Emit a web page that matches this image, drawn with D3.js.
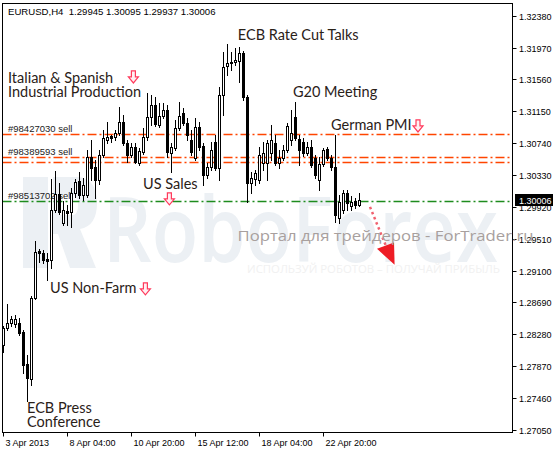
<!DOCTYPE html>
<html><head><meta charset="utf-8">
<script src="https://cdn.jsdelivr.net/npm/d3@7"></script>
<style>body{margin:0;background:#fff}svg{display:block}</style>
</head><body>
<svg id="c" width="553" height="451"></svg>
<script>
const headerText = "EURUSD,H4  1.29945 1.30095 1.29937 1.30006";
const openP = [1.28142,1.28361,1.28425,1.28412,1.28425,1.28309,1.27897,1.27704,1.28747,1.29352,
 1.29326,1.29249,1.29236,1.29879,1.30085,1.29712,1.29866,1.29854,1.30098,1.30253,
 1.30072,1.30072,1.30561,1.30433,1.30265,1.30587,1.30780,1.30832,1.30819,1.30870,
 1.31012,1.30742,1.30587,1.30690,1.30484,1.30626,1.30819,1.31076,1.31231,1.30973,
 1.31089,1.31166,1.30613,1.30677,1.30935,1.31128,1.30999,1.30780,1.30549,1.30948,
 1.30703,1.30330,1.30433,1.30754,1.30420,1.31359,1.31733,1.31771,1.31784,1.31797,
 1.31900,1.31334,1.30227,1.30278,1.30265,1.30484,1.30484,1.30613,1.30742,1.30484,
 1.30549,1.30651,1.30780,1.31076,1.30793,1.30754,1.30613,1.30690,1.30549,1.30265,
 1.30471,1.30664,1.30549,1.30433,1.29776,1.29879,1.30098,1.29931,1.29995,1.29945];
const highP = [1.28386,1.28670,1.28515,1.28528,1.28489,1.28335,1.28013,1.28772,1.29480,1.29377,
 1.29364,1.29326,1.30278,1.30381,1.30227,1.29995,1.29944,1.30162,1.30278,1.30368,
 1.30291,1.30651,1.30780,1.30523,1.30651,1.30909,1.31012,1.30845,1.30909,1.31205,
 1.31102,1.30780,1.30742,1.30742,1.30677,1.30935,1.31385,1.31359,1.31334,1.31256,
 1.31256,1.31231,1.30742,1.31038,1.31269,1.31192,1.31063,1.30909,1.31063,1.31012,
 1.30742,1.30484,1.30754,1.30845,1.31462,1.31913,1.32016,1.31913,1.31964,1.31977,
 1.31926,1.31359,1.30368,1.30394,1.30690,1.30754,1.30780,1.30973,1.30845,1.30651,
 1.30716,1.30999,1.31166,1.31269,1.30845,1.30806,1.30754,1.30780,1.30587,1.30561,
 1.30677,1.30690,1.30587,1.30845,1.30072,1.30137,1.30137,1.30059,1.30034,1.30095];
const lowP = [1.28052,1.28335,1.28386,1.28374,1.28271,1.27781,1.27421,1.27627,1.28734,1.29210,
 1.29197,1.28978,1.29133,1.29854,1.29828,1.29686,1.29686,1.29661,1.30047,1.30034,
 1.30008,1.30047,1.30265,1.30034,1.30214,1.30561,1.30742,1.30754,1.30780,1.30845,
 1.30716,1.30497,1.30561,1.30484,1.30458,1.30600,1.30780,1.30973,1.30960,1.30948,
 1.31063,1.30561,1.30368,1.30651,1.30909,1.30973,1.30780,1.30587,1.30523,1.30651,
 1.30201,1.30291,1.30394,1.30394,1.30265,1.31102,1.31617,1.31681,1.31745,1.31527,
 1.31295,1.29982,1.30098,1.30201,1.30227,1.30394,1.30265,1.30523,1.30458,1.30420,
 1.30523,1.30626,1.30716,1.30780,1.30458,1.30574,1.30587,1.30433,1.30291,1.30137,
 1.30446,1.30523,1.30394,1.29725,1.29712,1.29841,1.29879,1.29879,1.29905,1.29937];
const closeP = [1.28361,1.28425,1.28476,1.28476,1.28296,1.27884,1.27717,1.28747,1.29339,1.29326,
 1.29236,1.29223,1.29879,1.30085,1.29854,1.29879,1.29841,1.30098,1.30240,1.30072,
 1.30201,1.30561,1.30420,1.30265,1.30587,1.30806,1.30819,1.30806,1.30870,1.31012,
 1.30742,1.30587,1.30690,1.30497,1.30639,1.30819,1.31076,1.31231,1.30986,1.31089,
 1.31166,1.30626,1.30690,1.30935,1.31089,1.30999,1.30845,1.30626,1.30948,1.30690,
 1.30330,1.30433,1.30651,1.30420,1.31359,1.31720,1.31771,1.31784,1.31810,1.31900,
 1.31334,1.30227,1.30291,1.30355,1.30587,1.30613,1.30742,1.30780,1.30484,1.30549,
 1.30651,1.30960,1.30870,1.30806,1.30651,1.30613,1.30690,1.30458,1.30330,1.30471,
 1.30651,1.30549,1.30433,1.29815,1.29982,1.30098,1.29969,1.29982,1.29944,1.30006];
const xTickIdx = [0,16,32,48,64,80];
const xTickLabels = ["3 Apr 2013","8 Apr 04:00","10 Apr 20:00","15 Apr 12:00","18 Apr 04:00","22 Apr 20:00"];
const yTicks = [1.32380,1.31970,1.31560,1.31150,1.30740,1.30330,1.29920,1.29510,1.29100,1.28690,1.28280,1.27870,1.27460,1.27050];
const orderPrices = [1.30858,1.30566,1.30494,1.29997];
const orderLabels = ["#98427030 sell","#98389593 sell","","#98513702 sell"];
const orderKinds = ["sl","sl","sl","open"];
// event annotations: text lines, anchor bar position, anchor price (baseline)
const eventTexts = [["ECB Rate Cut Talks"],["Italian & Spanish","Industrial Production"],["G20 Meeting"],["German PMI"],["US Sales"],["US Non-Farm"],["ECB Press","Conference"]];
const eventBar = [58.7,1.25,72.5,82,35,11.75,6];
const eventPrice = [1.32067,1.31514,1.31328,1.30910,1.30151,1.28813,1.27269];
const arrowBar = [32.6,41.6,35.6,103.75];
const arrowPrice = [1.31669,1.30099,1.28941,1.31038];
const forecastBar = [91.75,95.75];
const forecastPrice = [1.29919,1.29415];
const headBar = [93.5,97.75,97.9];
const headPrice = [1.29379,1.29460,1.29173];
const watermarkText = "RoboForex";
const portalText = "Портал для трейдеров - ForTrader.ru";
const sloganText = "ИСПОЛЬЗУЙ РОБОТОВ – ПОЛУЧАЙ ПРИБЫЛЬ";

const svg = d3.select("#c");
const W = 553, H = 451;
const L = 2.5, R = 512.5, T = 3.5, B = 432.5;
const n = openP.length;
const x = d3.scaleLinear().domain([0, n-1]).range([3, 3 + 4*(n-1)]);
const y = d3.scaleLinear().domain([1.27050, 1.32380]).range([429.8, 15.7]);
const axisFont = "'Liberation Sans', Arial, sans-serif";
const evFont = "Lato, 'Open Sans', sans-serif";

svg.append("rect").attr("width",W).attr("height",H).attr("fill","#fff");

// watermark logo
const wm = svg.append("g").attr("fill","#ecf0f4");
wm.append("path").attr("d","M23,177 L48,177 L48,268 L23,268 Z");
wm.append("path").attr("d","M53,177 L78,177 Q97,179 97,203 Q97,226 80,229 L96,268 L70,268 L58,234 L53,234 Z M60,195 L60,215 L74,215 Q78,213 78,205 Q78,197 74,195 Z");
wm.append("text").attr("x",103).attr("y",262).attr("font-family","'Open Sans', sans-serif")
  .attr("font-weight",600).attr("font-size",90).attr("textLength",395).attr("lengthAdjust","spacingAndGlyphs").text(watermarkText);
svg.append("text").attr("x",247).attr("y",273).attr("font-family","'Open Sans', sans-serif").attr("font-size",11.5)
  .attr("fill","#f1f1f1").attr("textLength",253).attr("lengthAdjust","spacingAndGlyphs").text(sloganText);

// order lines
const orderColor = k => k === "open" ? "#1e8c1e" : "#ff4500";
orderPrices.forEach((p,i)=>{
  const yy = Math.round(y(p)) + 0.5;
  svg.append("line").attr("x1",L).attr("x2",R).attr("y1",yy).attr("y2",yy)
    .attr("stroke",orderColor(orderKinds[i])).attr("stroke-width",orderKinds[i]==="open"?1.3:1.7)
    .attr("stroke-dasharray","9,3,2,3");
  if (orderLabels[i]) svg.append("text").attr("x",x(1.25)).attr("y",yy-3).attr("font-family",axisFont)
    .attr("font-size",9.5).attr("fill","#222").text(orderLabels[i]);
});

// candles
const g = svg.append("g");
for (let i=0;i<n;i++){
  const cx = Math.round(x(i)) + 0.5;
  g.append("line").attr("x1",cx).attr("x2",cx).attr("y1",Math.round(y(highP[i]))).attr("y2",Math.round(y(lowP[i]))+1)
    .attr("stroke","#000").attr("stroke-width",1);
  const up = closeP[i] >= openP[i];
  const yt = Math.round(y(Math.max(openP[i],closeP[i])));
  const yb = Math.round(y(Math.min(openP[i],closeP[i])));
  g.append("rect").attr("x",cx-1).attr("y",yt+0.5).attr("width",2).attr("height",Math.max(yb-yt,0))
    .attr("fill",up?"#fff":"#000").attr("stroke","#000").attr("stroke-width",1);
}

// frame
svg.append("rect").attr("x",L).attr("y",T).attr("width",R-L).attr("height",B-T).attr("fill","none").attr("stroke","#000");

// y axis
yTicks.forEach(v=>{
  const yy = Math.round(y(v)) + 0.5;
  svg.append("line").attr("x1",R).attr("x2",R+4).attr("y1",yy).attr("y2",yy).attr("stroke","#000");
  svg.append("text").attr("x",519).attr("y",yy+3.5).attr("font-family",axisFont).attr("font-size",9).attr("fill","#000").text(v.toFixed(5));
});
// current price box
const lastC = closeP[n-1];
const cy = y(lastC);
svg.append("rect").attr("x",515).attr("y",Math.round(cy)-6).attr("width",38).attr("height",12).attr("fill","#000");
svg.append("text").attr("x",519).attr("y",Math.round(cy)+3.5).attr("font-family",axisFont).attr("font-size",9).attr("fill","#fff").text(lastC.toFixed(5));

// x axis
xTickIdx.forEach((idx,k)=>{
  const xx = Math.round(x(idx)) + 0.5;
  svg.append("line").attr("x1",xx).attr("x2",xx).attr("y1",B).attr("y2",B+4).attr("stroke","#000");
  svg.append("text").attr("x",xx+2).attr("y",446).attr("font-family",axisFont).attr("font-size",9).attr("fill","#000").text(xTickLabels[k]);
});

// header
svg.append("text").attr("x",8).attr("y",15).attr("font-family",axisFont).attr("font-size",9.6).attr("fill","#000")
  .style("white-space","pre").text(headerText);

// events
eventTexts.forEach((lines,k)=>{
  lines.forEach((t,j)=>{
    svg.append("text").attr("x",x(eventBar[k])).attr("y",y(eventPrice[k]) + j*14.5)
      .attr("font-family",evFont).attr("font-size",14.5).attr("fill","#2a2118").text(t);
  });
});
// pink arrows
arrowBar.forEach((b,k)=>{
  const cx = x(b), t = y(arrowPrice[k]);
  const d = `M${cx-2},${t} L${cx+2},${t} L${cx+2},${t+6} L${cx+5},${t+6} L${cx},${t+12} L${cx-5},${t+6} L${cx-2},${t+6} Z`;
  svg.append("path").attr("d",d).attr("fill","#fff0f3").attr("stroke","#ff3a5c").attr("stroke-width",1.2);
});

// forecast arrow
svg.append("line").attr("x1",x(forecastBar[0])).attr("y1",y(forecastPrice[0])).attr("x2",x(forecastBar[1])).attr("y2",y(forecastPrice[1]))
  .attr("stroke","#f0606e").attr("stroke-width",2.5).attr("stroke-dasharray","2.5,3");
svg.append("path").attr("d", d3.line()(headBar.map((b,k)=>[x(b), y(headPrice[k])])) + "Z").attr("fill","#ee1c25");

// portal text
svg.append("text").attr("x",237.5).attr("y",241).attr("font-family","'Open Sans', sans-serif").attr("font-size",14)
  .attr("fill","#a8a09e").attr("textLength",296).attr("lengthAdjust","spacingAndGlyphs").text(portalText);
</script>
</body></html>
